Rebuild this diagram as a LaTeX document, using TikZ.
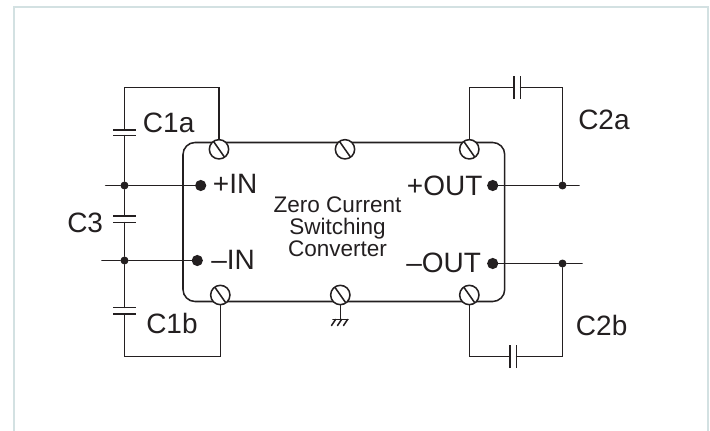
\documentclass[tikz,border=0pt]{standalone}
\usepackage{fontspec}
\setmainfont{Liberation Sans}
\definecolor{ink}{HTML}{231F20}
\definecolor{framec}{HTML}{D3E1E2}
\tikzset{
  wire/.style={draw=ink,line width=1.15pt,line cap=round},
  plate/.style={draw=ink,line width=1.15pt},
  screw/.style={circle,draw=ink,line width=1.15pt,fill=white,minimum size=14.5pt,inner sep=0pt,
    path picture={\draw[ink,line width=1.15pt] (path picture bounding box.125) -- (path picture bounding box.-55);}},
  term/.style={circle,fill=ink,minimum size=8.4pt,inner sep=0pt},
  junc/.style={circle,fill=ink,minimum size=6pt,inner sep=0pt},
  lab/.style={anchor=base west,inner sep=0pt,text=ink,font=\fontsize{21}{21}\selectfont},
  mid/.style={anchor=base,inner sep=0pt,text=ink,font=\fontsize{16.9}{17}\selectfont},
  box/.style={draw=ink,line width=1.15pt,rounded corners=9pt}
}
\begin{document}
\begin{tikzpicture}[x=0.75pt,y=-0.75pt]
\useasboundingbox (0,0) rectangle (710,431);
\coordinate (fa) at (14,431);
\coordinate (fb) at (14,7);
\coordinate (fc) at (708,7);
\coordinate (fd) at (708,431);
\draw[framec,line width=1.5pt] (fa) -- (fb) -- (fc) -- (fd);

% module outline
\coordinate (bnw) at (183,142.5);
\coordinate (bse) at (504.7,301.5);
\draw[box] (bnw) rectangle (bse);

% nodes
\node[screw] (s1) at (219,149.3) {};
\node[screw] (s2) at (345,149.3) {};
\node[screw] (s3) at (469.3,149.3) {};
\node[screw] (s4) at (220.3,295) {};
\node[screw] (s5) at (340.3,295) {};
\node[screw] (s6) at (469.3,295) {};
\node[term] (tpi) at (200.7,185.5) {};
\node[term] (tmi) at (197.3,260.5) {};
\node[term] (tpo) at (492.7,185.5) {};
\node[term] (tmo) at (492.7,263.5) {};
\node[junc] (j1) at (124.5,185.5) {};
\node[junc] (j2) at (124.5,260.5) {};
\node[junc] (j3) at (562.5,185.5) {};
\node[junc] (j4) at (562.5,263.5) {};
\coordinate (e1) at (105.7,185.5);
\coordinate (e2) at (102,260.5);
\coordinate (e3) at (579,185.5);
\coordinate (e4) at (582,263.5);

% input side
\coordinate (ca1) at (124.5,130);
\coordinate (ca2) at (124.5,135.7);
\coordinate (c31) at (124.5,216);
\coordinate (c32) at (124.5,222.7);
\coordinate (cb1) at (124.5,307.3);
\coordinate (cb2) at (124.5,314);
\draw[wire] (ca1) -- (124.5,87.5) -| (s1.north);
\draw[wire] (ca2) -- (j1) -- (c31);
\draw[wire] (c32) -- (j2) -- (cb1);
\draw[wire] (cb2) -- (124.5,356.5) -| (s4.south);
\draw[wire] (e1) -- (j1) -- (tpi);
\draw[wire] (e2) -- (j2) -- (tmi);
\foreach \c in {ca1,ca2,c31,c32,cb1,cb2}
  \draw[plate] ([xshift=-11.5*0.75pt]\c) -- ([xshift=11.5*0.75pt]\c);

% output side
\coordinate (d1) at (514,87.5);
\coordinate (d2) at (520.7,87.5);
\coordinate (d3) at (510,356.5);
\coordinate (d4) at (516.7,356.5);
\draw[wire] (s3.north) |- (d1);
\draw[wire] (d2) -| (j3);
\draw[wire] (s6.south) |- (d3);
\draw[wire] (d4) -| (j4);
\draw[wire] (tpo) -- (j3) -- (e3);
\draw[wire] (tmo) -- (j4) -- (e4);
\foreach \c in {d1,d2,d3,d4}
  \draw[plate] ([yshift=-11.5*0.75pt]\c) -- ([yshift=11.5*0.75pt]\c);

% ground
\coordinate (g0) at (340.3,319.5);
\draw[wire] (s5.south) -- (g0);
\draw[wire] (333,319.5) -- (348,319.5);
\draw[wire] (335.5,319.5) -- (331.5,325.5);
\draw[wire] (341.5,319.5) -- (337.5,325.5);
\draw[wire] (347.5,319.5) -- (343.5,325.5);

% labels
\node[lab] (lc1a) at (142.7,133) {C1a};
\node[lab] (lc1b) at (146,333.3) {C1b};
\node[lab] (lc3) at (67,232) {C3};
\node[lab] (lc2a) at (578,129.5) {C2a};
\node[lab] (lc2b) at (575.7,335.7) {C2b};
\node[lab] (lpi) at (212.7,193.5) {+IN};
\node[lab] (lmi) at (211,269.3) {–IN};
\node[lab] (lpo) at (406.7,195.7) {+OUT};
\node[lab] (lmo) at (406,272.3) {–OUT};
\node[mid] (m1) at (337.5,212) {Zero Current};
\node[mid] (m2) at (337.5,234) {Switching};
\node[mid] (m3) at (337.5,256) {Converter};
\end{tikzpicture}
\end{document}
